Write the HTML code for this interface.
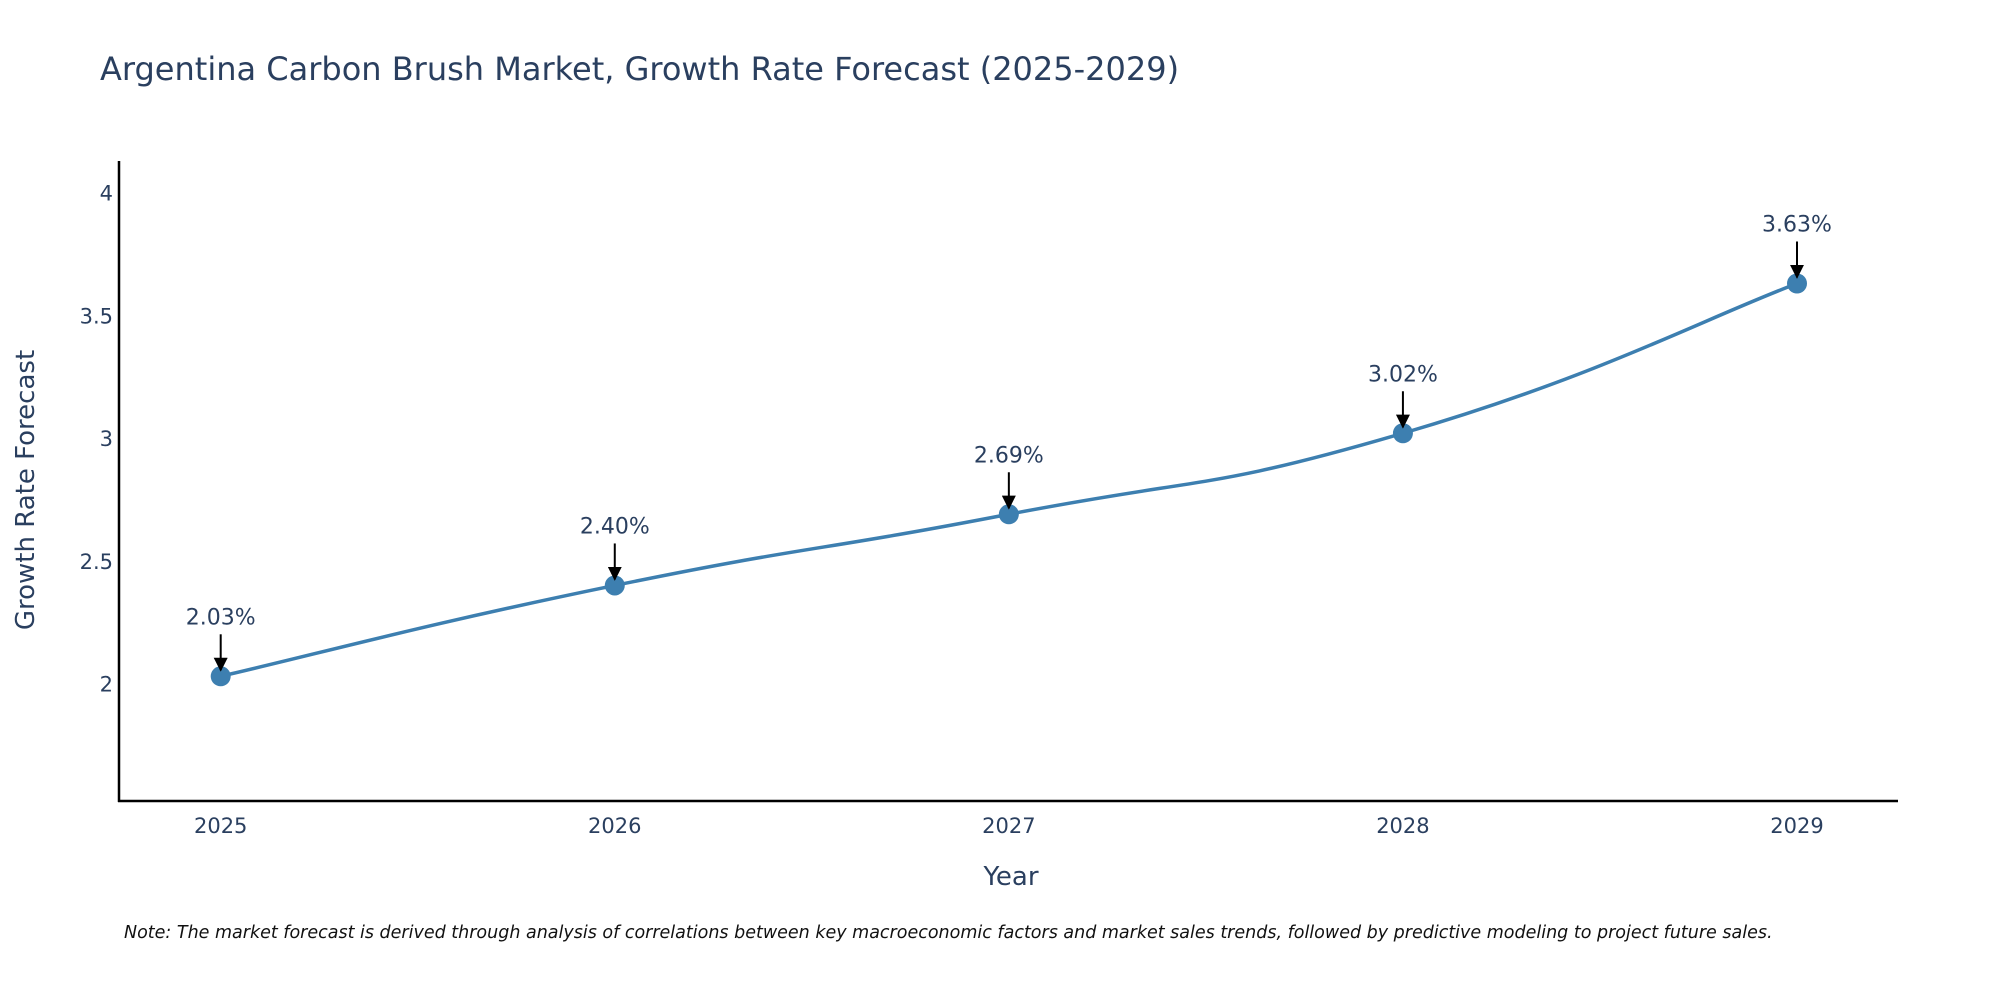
<!DOCTYPE html>
<html><head><meta charset="utf-8"><style>
body{margin:0;background:#fff;}
svg text{font-family:"DejaVu Sans","Liberation Sans",sans-serif;fill:#2a3f5f;}
</style></head><body>
<svg width="2000" height="1000" xmlns="http://www.w3.org/2000/svg">
<text x="100" y="80" font-size="32">Argentina Carbon Brush Market, Growth Rate Forecast (2025-2029)</text>
<g id="plot"></g>
<text x="1011" y="885" font-size="26" text-anchor="middle">Year</text>
<text transform="translate(34,490) rotate(-90)" font-size="26" text-anchor="middle">Growth Rate Forecast</text>
<text x="124" y="938" font-size="17.5" font-style="italic" style="fill:#111">Note: The market forecast is derived through analysis of correlations between key macroeconomic factors and market sales trends, followed by predictive modeling to project future sales.</text>
</svg>
<script>
const years=[2025,2026,2027,2028,2029];
const values=[2.03,2.40,2.69,3.02,3.63];
const labels=["2.03%","2.40%","2.69%","3.02%","3.63%"];
const yTicks=[2,2.5,3,3.5,4];
const yTickLabels=["2","2.5","3","3.5","4"];
const NS="http://www.w3.org/2000/svg";
const g=document.getElementById('plot');
const L=119,R=1898,T=161,B=801;
const X0=220.7,X1=1797;
function x(v){return X0+(v-years[0])*(X1-X0)/(years[years.length-1]-years[0]);}
const yMin=1.522,yMax=4.129;
function y(v){return B-(v-yMin)*(B-T)/(yMax-yMin);}
function mk(t,a){const e=document.createElementNS(NS,t);for(const k in a)e.setAttribute(k,a[k]);g.appendChild(e);return e;}
const defs=mk('defs',{});
defs.innerHTML='<marker id="ah" viewBox="0 0 10 10" refX="9" refY="5" markerWidth="7" markerHeight="7" orient="auto"><path d="M0,0L10,5L0,10z" fill="#000"/></marker>';
let ax=mk('line',{x1:L,y1:T,x2:L,y2:B+1,stroke:'#000','stroke-width':2.5});


ax=mk('line',{x1:L-1,y1:B,x2:R,y2:B,stroke:'#000','stroke-width':2.5});


yTicks.forEach((t,i)=>{const e=mk('text',{x:L-6,y:y(t)+8,'font-size':21,'text-anchor':'end'});e.textContent=yTickLabels[i];
e.setAttribute('x',L-6);

});
years.forEach(v=>{const e=mk('text',{x:x(v),y:833,'font-size':21,'text-anchor':'middle'});e.textContent=v;

});
const pts=years.map((v,i)=>[x(v),y(values[i])]);
let d='M'+pts[0][0]+','+pts[0][1];
const s=0.25;
for(let i=0;i<pts.length-1;i++){const p0=pts[Math.max(0,i-1)],p1=pts[i],p2=pts[i+1],p3=pts[Math.min(pts.length-1,i+2)];
d+=` C${p1[0]+(p2[0]-p0[0])*s},${p1[1]+(p2[1]-p0[1])*s} ${p2[0]-(p3[0]-p1[0])*s},${p2[1]-(p3[1]-p1[1])*s} ${p2[0]},${p2[1]}`;}
const ln=mk('path',{d:d,fill:'none',stroke:'#3d7fb0','stroke-width':3.5});


pts.forEach((p,i)=>{const c=mk('circle',{cx:p[0],cy:p[1],r:10,fill:'#3d7fb0'});


const a=mk('line',{x1:p[0],y1:p[1]-42,x2:p[0],y2:p[1]-6,stroke:'#000','stroke-width':2,'marker-end':'url(#ah)'});


const t=mk('text',{x:p[0],y:p[1]-52,'font-size':22,'text-anchor':'middle'});t.textContent=labels[i];

});
</script>
</body></html>
